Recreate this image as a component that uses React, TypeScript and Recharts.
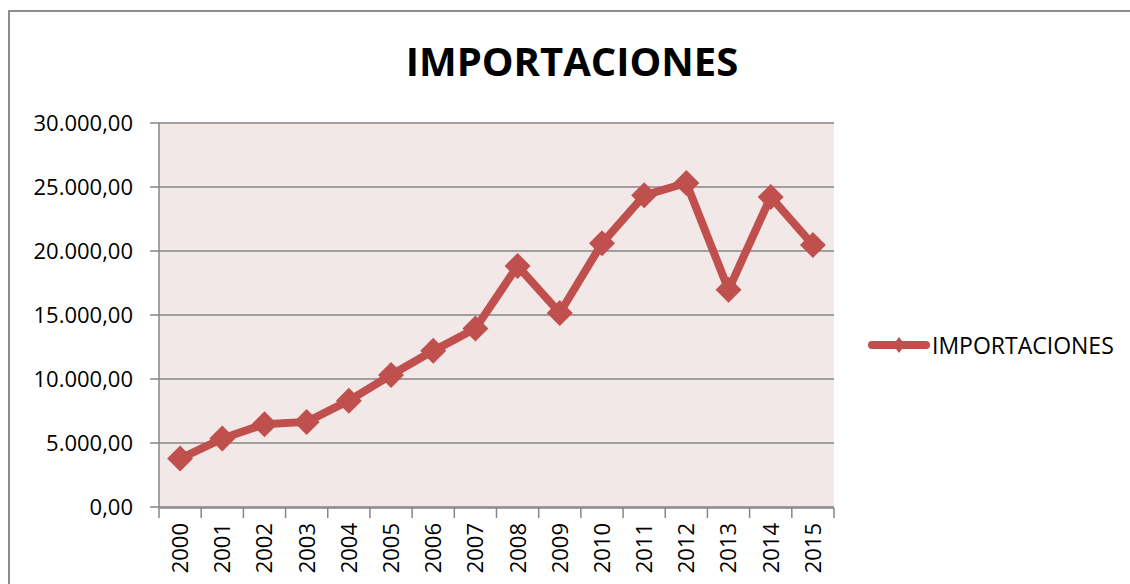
import { LineChart, Line, XAxis, YAxis, CartesianGrid, Legend } from 'recharts';

const YEARS = ['2000', '2001', '2002', '2003', '2004', '2005', '2006', '2007', '2008', '2009', '2010', '2011', '2012', '2013', '2014', '2015'];
const IMPORTACIONES = [3780, 5350, 6470, 6650, 8310, 10310, 12200, 13940, 18830, 15160, 20600, 24350, 25310, 16970, 24220, 20470];
const Y_TICKS = [0, 5000, 10000, 15000, 20000, 25000, 30000];

const data = YEARS.map((year, i) => ({ idx: i, year, IMPORTACIONES: IMPORTACIONES[i] }));
const LABEL_TICKS = YEARS.map((_, i) => i);
const BOUNDARY_TICKS = [...YEARS.map((_, i) => i - 0.5), YEARS.length - 0.5];

const RED = '#C0504D';
const GREY = '#868686';
const FONT = "'Open Sans', sans-serif";

// 30000 -> "30.000,00"
function formatEs(v: number) {
  const [int, dec] = v.toFixed(2).split('.');
  return int.replace(/\B(?=(\d{3})+(?!\d))/g, '.') + ',' + dec;
}

const Diamond = (props: any) => {
  const { cx, cy } = props;
  if (cx == null || cy == null) return null;
  const r = 13;
  return (
    <polygon
      points={`${cx},${cy - r} ${cx + r},${cy} ${cx},${cy + r} ${cx - r},${cy}`}
      fill={RED}
    />
  );
};

const EmptyTick = () => <g />;

const YearTick = (props: any) => {
  const { x, y, payload } = props;
  return (
    <text
      x={x}
      y={y}
      transform={`rotate(-90, ${x}, ${y})`}
      textAnchor="end"
      dx={-16}
      dy="0.36em"
      fill="#000"
      fontSize={22}
      fontFamily={FONT}
    >
      {YEARS[payload.value]}
    </text>
  );
};

const LegendContent = (props: any) => {
  const item = props.payload && props.payload[0];
  if (!item) return null;
  return (
    <div style={{ display: 'flex', alignItems: 'center', fontFamily: FONT, fontSize: 23, color: '#000' }}>
      <svg width={66} height={22}>
        <line x1={6} y1={11} x2={60} y2={11} stroke={RED} strokeWidth={8} strokeLinecap="round" />
        <polygon points="33,3 39,11 33,19 27,11" fill={RED} />
      </svg>
      <span>{item.value}</span>
    </div>
  );
};

export default function App() {
  return (
    <div style={{ position: 'absolute', left: 0, top: 0, width: 1130, height: 584, overflow: 'hidden', background: '#fff' }}>
      <div
        style={{
          position: 'absolute',
          left: 8,
          top: 10,
          width: 1200,
          height: 700,
          border: '2px solid #8c8c8c',
        }}
      />
      <div
        style={{
          position: 'absolute',
          left: 572,
          top: 41,
          transform: 'translateX(-50%)',
          fontFamily: FONT,
          fontWeight: 700,
          fontSize: 40,
          lineHeight: 1,
          whiteSpace: 'nowrap',
          color: '#000',
        }}
      >
        IMPORTACIONES
      </div>
      <LineChart width={1130} height={584} data={data} margin={{ top: 123, right: 296, bottom: 75, left: 0 }}>
        <CartesianGrid vertical={false} stroke={GREY} strokeWidth={1.5} fill="#F3E8E8" horizontalValues={Y_TICKS} />
        <XAxis
          xAxisId="marks"
          type="number"
          dataKey="idx"
          domain={[-0.5, YEARS.length - 0.5]}
          ticks={BOUNDARY_TICKS}
          interval={0}
          tick={<EmptyTick />}
          tickSize={10}
          height={1}
          axisLine={{ stroke: GREY, strokeWidth: 1.5 }}
          tickLine={{ stroke: GREY, strokeWidth: 1.5 }}
        />
        <XAxis
          xAxisId="labels"
          type="number"
          dataKey="idx"
          domain={[-0.5, YEARS.length - 0.5]}
          ticks={LABEL_TICKS}
          interval={0}
          tickSize={0}
          tickMargin={0}
          height={1}
          axisLine={false}
          tickLine={false}
          tick={<YearTick />}
        />
        <YAxis
          type="number"
          domain={[0, 30000]}
          ticks={Y_TICKS}
          interval={0}
          width={159}
          tickSize={9}
          tickMargin={17}
          tickFormatter={formatEs}
          axisLine={{ stroke: GREY, strokeWidth: 1.5 }}
          tickLine={{ stroke: GREY, strokeWidth: 1.5 }}
          tick={{ fill: '#000', fontSize: 22, fontFamily: FONT }}
        />
        <Legend
          layout="vertical"
          align="center"
          verticalAlign="middle"
          wrapperStyle={{ left: 866, top: 329, width: 270, height: 28 }}
          content={<LegendContent />}
        />
        <Line
          xAxisId="labels"
          type="linear"
          dataKey="IMPORTACIONES"
          name="IMPORTACIONES"
          stroke={RED}
          strokeWidth={8}
          strokeLinejoin="round"
          dot={<Diamond />}
          activeDot={false}
          isAnimationActive={false}
        />
      </LineChart>
    </div>
  );
}
